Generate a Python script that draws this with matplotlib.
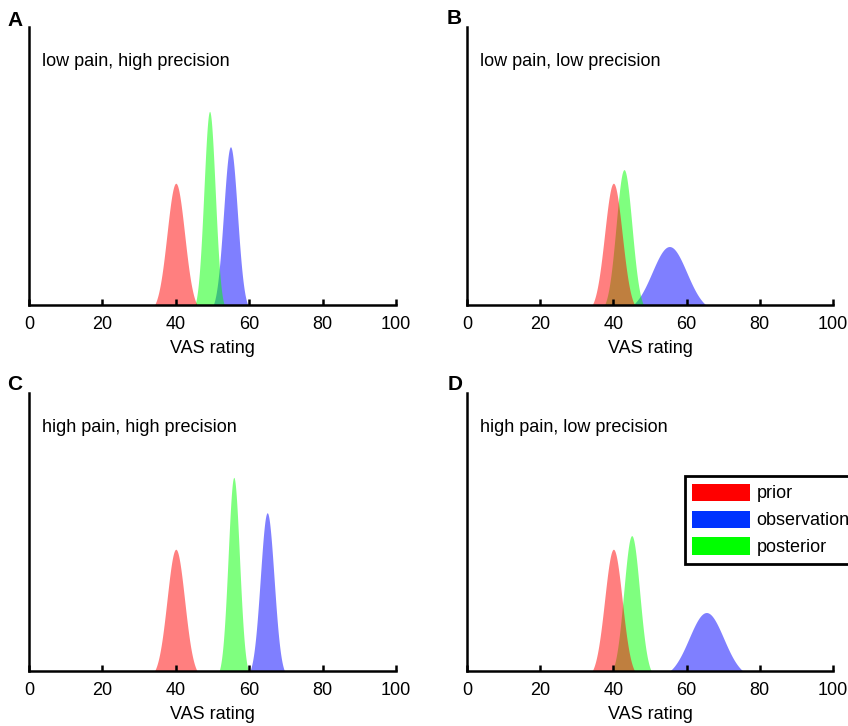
import numpy as np
import matplotlib
matplotlib.use('Agg')
import matplotlib.pyplot as plt
import matplotlib.patches as patches

plt.rcParams['font.family'] = ['Liberation Sans', 'DejaVu Sans']

# values (means / spreads of each curve, VAS scale)
panel_labels = ['A', 'B', 'C', 'D']
conditions = ['low pain, high precision', 'low pain, low precision',
              'high pain, high precision', 'high pain, low precision']
prior_mean = [40, 40, 40, 40]
prior_sd = [2.4, 2.4, 2.4, 2.4]
obs_mean = [54.9, 55.3, 64.9, 65.4]
obs_sd = [1.87, 4.72, 1.87, 4.72]
post_mean = [49.2, 42.9, 55.8, 45.0]
post_sd = [1.54, 2.17, 1.54, 2.17]
legend_names = ['prior', 'observation', 'posterior']
xticks = [0, 20, 40, 60, 80, 100]

fill_colors = {'prior': '#ff0000', 'observation': '#0000ff', 'posterior': '#00ff00'}
legend_colors = ['#ff0000', '#0033ff', '#00ff00']

fig = plt.figure(figsize=(8.48, 7.26), dpi=100)
W, H = 848, 726
# axes boxes in pixels: left, right, top, bottom
boxes = [(29, 396, 27, 305), (467, 833, 27, 305),
         (29, 396, 393, 671), (467, 833, 393, 671)]
letter_pos = [(15, 20), (454, 19), (15, 384), (455, 384)]

x = np.linspace(0, 100, 2001)

def pdf(m, s):
    return np.exp(-0.5 * ((x - m) / s) ** 2) / (s * np.sqrt(2 * np.pi))

axes = []
for i in range(4):
    l, r, t, b = boxes[i]
    ax = fig.add_axes([l / W, 1 - b / H, (r - l) / W, (b - t) / H])
    axes.append(ax)
    # drawing order: observation, posterior, prior (prior on top)
    ax.fill_between(x, 0, pdf(obs_mean[i], obs_sd[i]), color=fill_colors['observation'],
                    alpha=0.5, lw=0)
    ax.fill_between(x, 0, pdf(post_mean[i], post_sd[i]), color=fill_colors['posterior'],
                    alpha=0.5, lw=0)
    ax.fill_between(x, 0, pdf(prior_mean[i], prior_sd[i]), color=fill_colors['prior'],
                    alpha=0.5, lw=0)
    ax.set_xlim(0, 100)
    ax.set_ylim(0.009, 0.368)
    for side in ['top', 'right']:
        ax.spines[side].set_visible(False)
    for side in ['left', 'bottom']:
        ax.spines[side].set_linewidth(1.8)
        ax.spines[side].set_zorder(5)
    ax.set_yticks([])
    ax.set_xticks(xticks)
    ax.tick_params(axis='x', direction='in', length=4, width=1.8, labelsize=13, pad=8)
    ax.set_xlabel('VAS rating', fontsize=13, labelpad=5)
    ax.text(0.035, 0.875, conditions[i], transform=ax.transAxes, fontsize=13,
            ha='left', va='center')
    lx, ly = letter_pos[i]
    fig.text(lx / W, 1 - ly / H, panel_labels[i], fontsize=15, fontweight='bold',
             ha='center', va='center')

handles = [patches.Patch(facecolor=c, edgecolor='none') for c in legend_colors]
leg = axes[3].legend(handles, legend_names, loc='upper left',
                     bbox_to_anchor=(0.596, 0.70), fontsize=13, frameon=True,
                     fancybox=False, framealpha=1, edgecolor='black',
                     handlelength=3.2, handleheight=1.1, handletextpad=0.35,
                     labelspacing=0.45, borderpad=0.4, borderaxespad=0)
leg.get_frame().set_linewidth(2)

plt.savefig('out.png', dpi=100)
